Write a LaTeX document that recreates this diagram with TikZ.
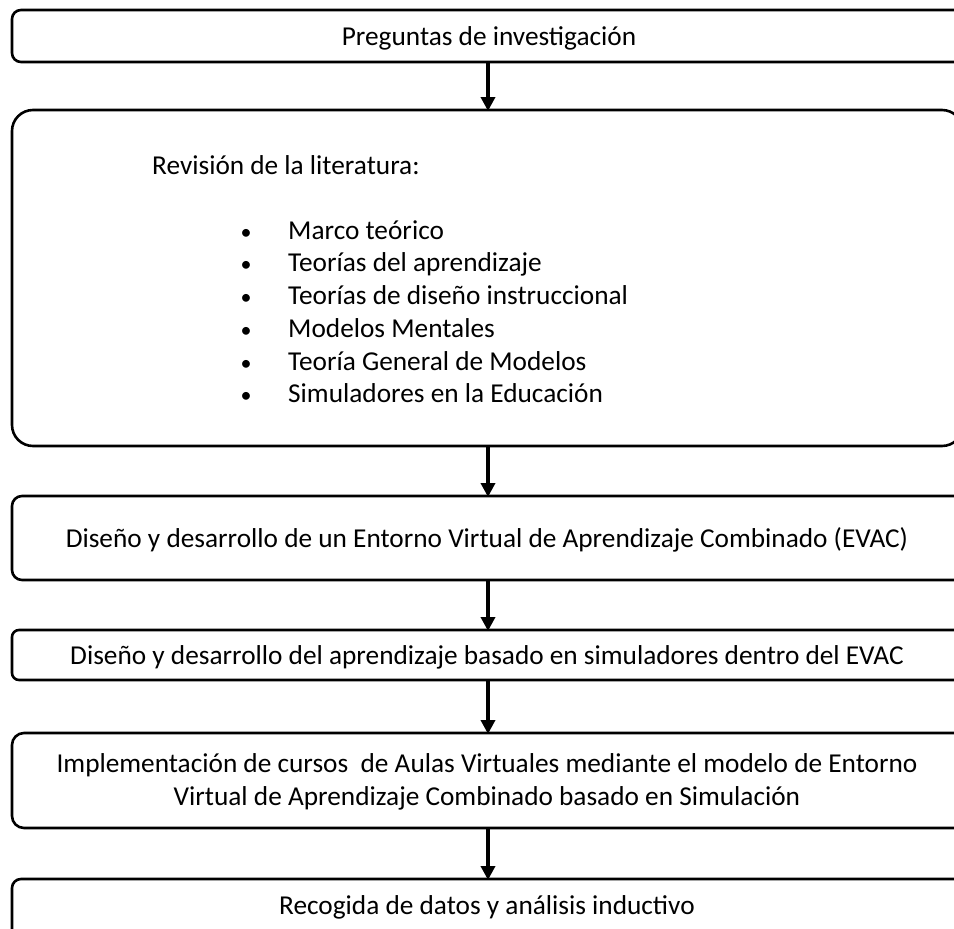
\documentclass[tikz,border=0pt]{standalone}
\usepackage{fontspec}
\setmainfont{Carlito}
\usetikzlibrary{arrows.meta}
\tikzset{
  box/.style={draw=black, line width=2.6pt, fill=white, inner sep=0pt, anchor=north west},
  txt/.style={font=\fontsize{27.3}{32}\selectfont, inner sep=0pt, text height=22pt, text depth=3pt},
  flowarrow/.style={line width=3.5pt, -{Triangle[width=14pt,length=14pt]}, shorten >=-1pt}
}
\begin{document}
\begin{tikzpicture}[x=1pt,y=-1pt]
\useasboundingbox (0,0) rectangle (954,929);
\clip (0,0) rectangle (954,929);

% boxes of the flow (top to bottom)
\draw[box, rounded corners=9pt]  (12,10)  rectangle (975,62);
\draw[box, rounded corners=21pt] (12,110) rectangle (963,446);
\draw[box, rounded corners=10pt] (12,496) rectangle (975,580);
\draw[box, rounded corners=7pt]  (12,630) rectangle (975,680);
\draw[box, rounded corners=12pt] (12,733) rectangle (975,828);
\draw[box, rounded corners=9pt]  (12,879) rectangle (975,940);

% anchors of the boxes on the flow axis
\coordinate (b1s) at (488,62);
\coordinate (b2n) at (488,110);
\coordinate (b2s) at (488,446);
\coordinate (b3n) at (488,496);
\coordinate (b3s) at (488,580);
\coordinate (b4n) at (488,630);
\coordinate (b4s) at (488,680);
\coordinate (b5n) at (488,733);
\coordinate (b5s) at (488,828);
\coordinate (b6n) at (488,879);

% texts
\node[txt] (t1) at (489,36) {Preguntas de investigación};
\node[txt, anchor=west] (t2) at (152,165) {Revisión de la literatura:};
\foreach \y/\s [count=\i] in {
  230/Marco teórico,
  262/Teorías del aprendizaje,
  295/Teorías de diseño instruccional,
  328/Modelos Mentales,
  361/Teoría General de Modelos,
  393/Simuladores en la Educación}{
  \node[txt] (bul\i) at (246,\y) {\fontsize{22}{26}\selectfont •};
  \node[txt, anchor=west] (item\i) at (288,\y) {\s};
}
\node[txt] (t3) at (487,538) {Diseño y desarrollo de un Entorno Virtual de Aprendizaje Combinado (EVAC)};
\node[txt] (t4) at (487,655) {Diseño y desarrollo del aprendizaje basado en simuladores dentro del EVAC};
\node[txt] (t5a) at (487,763) {Implementación de cursos\ \ de Aulas Virtuales mediante el modelo de Entorno};
\node[txt] (t5b) at (487,796) {Virtual de Aprendizaje Combinado basado en Simulación};
\node[txt] (t6) at (487,905) {Recogida de datos y análisis inductivo};

% connectors
\draw[flowarrow] (b1s) -- (b2n);
\draw[flowarrow] (b2s) -- (b3n);
\draw[flowarrow] (b3s) -- (b4n);
\draw[flowarrow] (b4s) -- (b5n);
\draw[flowarrow] (b5s) -- (b6n);
\end{tikzpicture}
\end{document}
